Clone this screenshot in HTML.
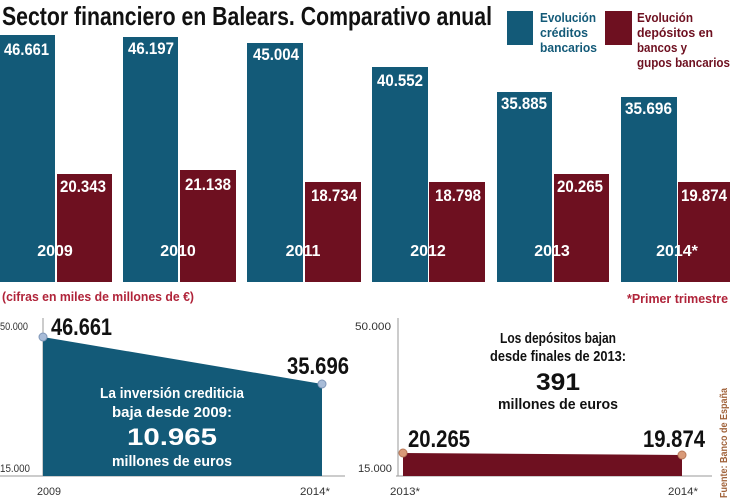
<!DOCTYPE html>
<html><head><meta charset="utf-8"><style>
html,body{margin:0;padding:0;background:#fff;width:730px;height:500px;overflow:hidden}
svg{display:block}
text{font-family:"Liberation Sans",sans-serif}
</style></head><body>
<svg width="730" height="500" viewBox="0 0 730 500" xmlns="http://www.w3.org/2000/svg">
<text x="2" y="25" font-size="26" font-weight="bold" fill="#111" textLength="490" lengthAdjust="spacingAndGlyphs">Sector financiero en Balears. Comparativo anual</text>
<rect x="507" y="11" width="26" height="34" fill="#135a78"/>
<g font-size="13" font-weight="bold" fill="#135a78">
<text x="540" y="22" textLength="56" lengthAdjust="spacingAndGlyphs">Evolución</text>
<text x="540" y="37" textLength="48" lengthAdjust="spacingAndGlyphs">créditos</text>
<text x="540" y="52" textLength="57" lengthAdjust="spacingAndGlyphs">bancarios</text>
</g>
<rect x="605" y="11" width="27" height="34" fill="#6e1020"/>
<g font-size="13" font-weight="bold" fill="#6e1020">
<text x="637" y="22" textLength="56" lengthAdjust="spacingAndGlyphs">Evolución</text>
<text x="637" y="37" textLength="76" lengthAdjust="spacingAndGlyphs">depósitos en</text>
<text x="637" y="52" textLength="50" lengthAdjust="spacingAndGlyphs">bancos y</text>
<text x="637" y="67" textLength="93" lengthAdjust="spacingAndGlyphs">gupos bancarios</text>
</g>
<g fill="#135a78">
<rect x="0" y="35" width="55" height="247"/>
<rect x="123" y="37" width="55" height="245"/>
<rect x="247" y="43" width="56" height="239"/>
<rect x="372" y="67" width="56" height="215"/>
<rect x="497" y="92" width="55" height="190"/>
<rect x="621" y="97" width="56" height="185"/>
</g>
<g fill="#6e1020">
<rect x="57" y="174" width="55" height="108"/>
<rect x="180" y="170" width="56" height="112"/>
<rect x="305" y="182" width="56" height="100"/>
<rect x="429" y="182" width="56" height="100"/>
<rect x="554" y="174" width="55" height="108"/>
<rect x="678" y="182" width="52" height="100"/>
</g>
<g font-size="17" font-weight="bold" fill="#fff">
<text x="4" y="55" textLength="45" lengthAdjust="spacingAndGlyphs">46.661</text>
<text x="128" y="54" textLength="46" lengthAdjust="spacingAndGlyphs">46.197</text>
<text x="253" y="60" textLength="46" lengthAdjust="spacingAndGlyphs">45.004</text>
<text x="377" y="86" textLength="46" lengthAdjust="spacingAndGlyphs">40.552</text>
<text x="501" y="109" textLength="46" lengthAdjust="spacingAndGlyphs">35.885</text>
<text x="625" y="114" textLength="47" lengthAdjust="spacingAndGlyphs">35.696</text>
<text x="60" y="192" textLength="46" lengthAdjust="spacingAndGlyphs">20.343</text>
<text x="185" y="190" textLength="46" lengthAdjust="spacingAndGlyphs">21.138</text>
<text x="311" y="201" textLength="46" lengthAdjust="spacingAndGlyphs">18.734</text>
<text x="435" y="201" textLength="46" lengthAdjust="spacingAndGlyphs">18.798</text>
<text x="557" y="192" textLength="46" lengthAdjust="spacingAndGlyphs">20.265</text>
<text x="681" y="201" textLength="46" lengthAdjust="spacingAndGlyphs">19.874</text>
</g>
<g font-size="16" font-weight="bold" fill="#fff" text-anchor="middle">
<text x="55" y="256">2009</text>
<text x="178" y="256">2010</text>
<text x="303" y="256">2011</text>
<text x="428" y="256">2012</text>
<text x="552" y="256">2013</text>
<text x="677" y="256">2014*</text>
</g>
<text x="2" y="301" font-size="13" font-weight="bold" fill="#b0243a" textLength="192" lengthAdjust="spacingAndGlyphs">(cifras en miles de millones de €)</text>
<text x="627" y="303" font-size="13" font-weight="bold" fill="#b0243a" textLength="101" lengthAdjust="spacingAndGlyphs">*Primer trimestre</text>
<line x1="43" y1="318" x2="43" y2="476" stroke="#999" stroke-width="1"/>
<line x1="0" y1="476" x2="345" y2="476" stroke="#999" stroke-width="1"/>
<polygon points="43,337 322,384 322,476 43,476" fill="#135a78"/>
<circle cx="43" cy="337" r="4" fill="#a8bcd8" stroke="#7f96b8"/>
<circle cx="322" cy="384" r="4" fill="#a8bcd8" stroke="#7f96b8"/>
<g font-size="11" fill="#333">
<text x="0" y="330" textLength="28" lengthAdjust="spacingAndGlyphs">50.000</text>
<text x="0" y="472" textLength="30" lengthAdjust="spacingAndGlyphs">15.000</text>
<text x="37" y="495" textLength="24" lengthAdjust="spacingAndGlyphs">2009</text>
<text x="300" y="495" textLength="30" lengthAdjust="spacingAndGlyphs">2014*</text>
<text x="355" y="330" textLength="36" lengthAdjust="spacingAndGlyphs">50.000</text>
<text x="358" y="472" textLength="34" lengthAdjust="spacingAndGlyphs">15.000</text>
<text x="390" y="495" textLength="30" lengthAdjust="spacingAndGlyphs">2013*</text>
<text x="668" y="495" textLength="30" lengthAdjust="spacingAndGlyphs">2014*</text>
</g>
<g font-size="24" font-weight="bold" fill="#111">
<text x="51" y="335" textLength="61" lengthAdjust="spacingAndGlyphs">46.661</text>
<text x="287" y="374" textLength="62" lengthAdjust="spacingAndGlyphs">35.696</text>
<text x="408" y="447" textLength="62" lengthAdjust="spacingAndGlyphs">20.265</text>
<text x="643" y="447" textLength="62" lengthAdjust="spacingAndGlyphs">19.874</text>
</g>
<g fill="#fff" font-weight="bold" text-anchor="middle">
<text x="172" y="398" font-size="15" textLength="144" lengthAdjust="spacingAndGlyphs">La inversión crediticia</text>
<text x="172" y="417" font-size="15" textLength="120" lengthAdjust="spacingAndGlyphs">baja desde 2009:</text>
<text x="172" y="445" font-size="24" textLength="90" lengthAdjust="spacingAndGlyphs">10.965</text>
<text x="172" y="466" font-size="15" textLength="120" lengthAdjust="spacingAndGlyphs">millones de euros</text>
</g>
<line x1="398" y1="318" x2="398" y2="476" stroke="#999" stroke-width="1"/>
<line x1="396" y1="476" x2="712" y2="476" stroke="#999" stroke-width="1"/>
<polygon points="403,453 682,455 682,476 403,476" fill="#6e1020"/>
<circle cx="403" cy="453" r="4" fill="#d99a78" stroke="#b87858"/>
<circle cx="682" cy="455" r="4" fill="#d99a78" stroke="#b87858"/>
<g fill="#111" font-weight="bold" text-anchor="middle">
<text x="558" y="343" font-size="15" textLength="116" lengthAdjust="spacingAndGlyphs">Los depósitos bajan</text>
<text x="558" y="361" font-size="15" textLength="136" lengthAdjust="spacingAndGlyphs">desde finales de 2013:</text>
<text x="558" y="390" font-size="24" textLength="44" lengthAdjust="spacingAndGlyphs">391</text>
<text x="558" y="409" font-size="15" textLength="120" lengthAdjust="spacingAndGlyphs">millones de euros</text>
</g>
<text transform="translate(727,498) rotate(-90)" font-size="10" font-weight="bold" fill="#a0623a" textLength="110" lengthAdjust="spacingAndGlyphs">Fuente: Banco de España</text>
</svg>
</body></html>
